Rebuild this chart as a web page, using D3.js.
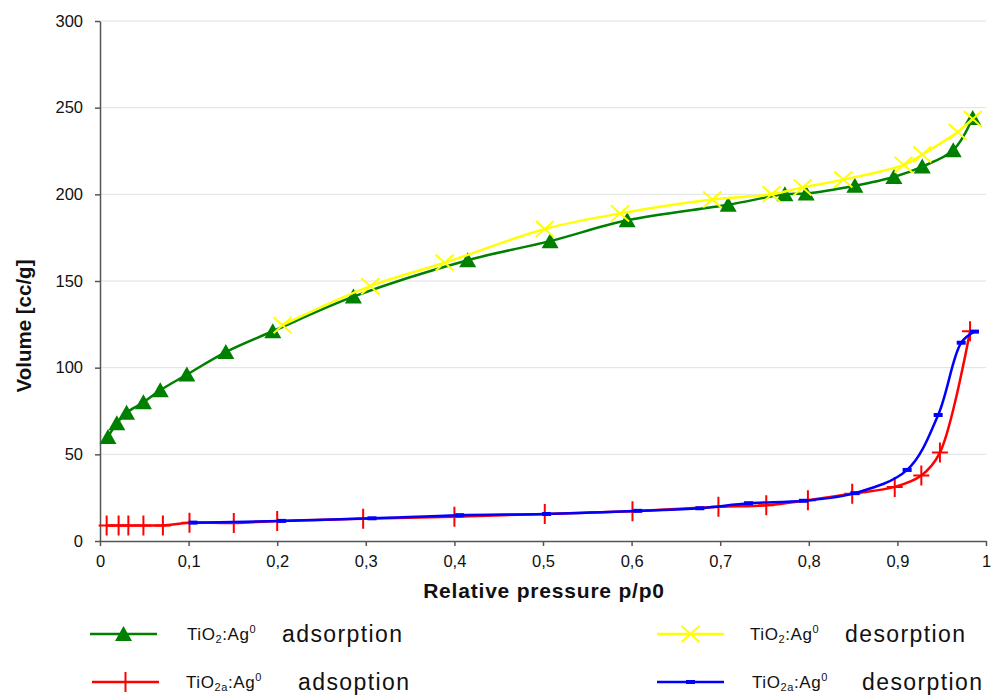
<!DOCTYPE html>
<html><head><meta charset="utf-8">
<script src="https://cdn.jsdelivr.net/npm/d3@7"></script>
<style>body{margin:0;background:#fff}svg{display:block;font-family:"Liberation Sans",Arial,sans-serif}</style>
</head><body><svg id="c" width="991" height="695"></svg>
<script>
// ---- data ----
const xTicks = [0,0.1,0.2,0.3,0.4,0.5,0.6,0.7,0.8,0.9,1];
const xTickLabels = ["0","0,1","0,2","0,3","0,4","0,5","0,6","0,7","0,8","0,9","1"];
const yTicks = [0,50,100,150,200,250,300];

// TiO2:Ag0 adsorption (green triangles)
const pGreenAds = [0.009,0.019,0.030,0.049,0.068,0.098,0.142,0.195,0.286,0.415,0.508,0.595,0.709,0.773,0.797,0.852,0.896,0.928,0.963,0.985];
const vGreenAds = [60,68,74,80,87,96,109,121,141,162,173,185,194,200,200.5,205,210,216,225.5,244];

// TiO2:Ag0 desorption (yellow crosses)
const pYellowDes = [0.206,0.305,0.389,0.502,0.587,0.691,0.758,0.793,0.839,0.907,0.928,0.968,0.985];
const vYellowDes = [124.5,147,160.5,180,189,197,200,204,208.5,217,223,236,243.5];

// TiO2a:Ag0 adsoption (red plus)
const pRedAds = [0.0075,0.021,0.032,0.049,0.071,0.101,0.151,0.200,0.297,0.400,0.502,0.601,0.698,0.752,0.799,0.849,0.897,0.927,0.948,0.982];
const vRedAds = [9,9,9,9,9,10.6,10.4,11.6,12.8,14,15.6,17.2,19.7,20.6,23.5,27.2,31.2,37.8,51,121];

// TiO2a:Ag0 desorption (blue dashes)
const pBlueDes = [0.105,0.205,0.307,0.406,0.504,0.607,0.677,0.732,0.794,0.852,0.911,0.946,0.972,0.987];
const vBlueDes = [10.6,11.6,13.1,14.9,15.6,17.4,18.9,21.8,23.2,27.6,41,72.7,114.4,120.8];

const seriesNames = ["adsorption","desorption","adsoption","desorption"];

// ---- drawing ----
const svg = d3.select('#c');
svg.append('rect').attr('width',991).attr('height',695).attr('fill','#fff');
const x = d3.scaleLinear().domain([0,1]).range([100,986]);
const y = d3.scaleLinear().domain([0,300]).range([541,21]);

// gridlines
svg.append('g').selectAll('line').data(yTicks.filter(d=>d>0)).join('line')
  .attr('x1',x(0)).attr('x2',x(1)).attr('y1',d=>y(d)).attr('y2',d=>y(d))
  .attr('stroke','#e0e0e0').attr('stroke-width',1);

// axes
const gx = svg.append('g').attr('transform',`translate(0,${y(0)})`)
  .call(d3.axisBottom(x).tickValues(xTicks).tickFormat((d,i)=>xTickLabels[i]).tickSize(5).tickPadding(9).tickSizeOuter(0));
const gy = svg.append('g').attr('transform',`translate(${x(0)},0)`)
  .call(d3.axisLeft(y).tickValues(yTicks).tickSize(5).tickPadding(12).tickSizeOuter(0));
[gx,gy].forEach(g=>{
  g.select('.domain').attr('stroke','#555').attr('stroke-width',1.5);
  g.selectAll('.tick line').attr('stroke','#555').attr('stroke-width',1.5);
  g.selectAll('.tick text').attr('fill','#111').attr('font-size',16.5)
    .attr('font-family','"Liberation Sans",Arial,sans-serif');
});

// axis titles
svg.append('text').attr('x',544).attr('y',598).attr('text-anchor','middle')
  .attr('font-size',21).attr('font-weight','bold').attr('letter-spacing',0.8).attr('fill','#111')
  .text('Relative pressure p/p0');
svg.append('text').attr('transform','translate(31,326) rotate(-90)').attr('text-anchor','middle')
  .attr('font-size',20.5).attr('font-weight','bold').attr('fill','#111')
  .text('Volume [cc/g]');

const curve = d3.curveCatmullRom.alpha(0.5);
const mk = (ps,vs)=>ps.map((p,i)=>[p,vs[i]]);
const line = d3.line().x(d=>x(d[0])).y(d=>y(d[1])).curve(curve);

const series = [
  {data: mk(pGreenAds,vGreenAds), color:'#008000', marker:'tri'},
  {data: mk(pYellowDes,vYellowDes), color:'#ffff00', marker:'x'},
  {data: mk(pRedAds,vRedAds), color:'#ff0000', marker:'plus'},
  {data: mk(pBlueDes,vBlueDes), color:'#0000ff', marker:'dash'}
];

function drawMarker(g, type, color){
  if(type==='tri'){
    g.append('path').attr('d','M0,-8 L8.5,7 L-8.5,7 Z').attr('fill',color);
  } else if(type==='x'){
    g.append('path').attr('d','M-9,-8 L9,8 M-9,8 L9,-8').attr('stroke',color).attr('stroke-width',2).attr('fill','none');
  } else if(type==='plus'){
    g.append('path').attr('d','M-8,0 L8,0 M0,-10 L0,10').attr('stroke',color).attr('stroke-width',2).attr('fill','none');
  } else {
    g.append('rect').attr('x',-4.5).attr('y',-2).attr('width',9).attr('height',4).attr('fill',color);
  }
}

series.forEach(s=>{
  svg.append('path').datum(s.data).attr('d',line).attr('fill','none')
    .attr('stroke',s.color).attr('stroke-width',2.5);
  s.data.forEach(d=>{
    const g = svg.append('g').attr('transform',`translate(${x(d[0])},${y(d[1])})`);
    drawMarker(g, s.marker, s.color);
  });
});

// legend
const legendItems = [
  {lx:90, ly:634, color:'#008000', marker:'tri', sub:'2', tx:187, bx:282, name:seriesNames[0]},
  {lx:657, ly:634, color:'#ffff00', marker:'x', sub:'2', tx:750, bx:845, name:seriesNames[1]},
  {lx:92, ly:682, color:'#ff0000', marker:'plus', sub:'2a', tx:186, bx:298, name:seriesNames[2]},
  {lx:657, ly:682, color:'#0000ff', marker:'dash', sub:'2a', tx:752, bx:862, name:seriesNames[3]}
];
legendItems.forEach(it=>{
  svg.append('line').attr('x1',it.lx).attr('x2',it.lx+67).attr('y1',it.ly).attr('y2',it.ly)
    .attr('stroke',it.color).attr('stroke-width',2.5);
  const g = svg.append('g').attr('transform',`translate(${it.lx+33.5},${it.ly})`);
  drawMarker(g,it.marker,it.color);
  const t = svg.append('text').attr('x',it.tx).attr('y',it.ly+6).attr('font-size',17).attr('fill','#111').attr('letter-spacing',0.6);
  t.append('tspan').text('TiO');
  t.append('tspan').attr('font-size',11).attr('dy',3).text(it.sub);
  t.append('tspan').attr('dy',-3).text(':Ag');
  t.append('tspan').attr('font-size',11).attr('dy',-7).text('0');
  svg.append('text').attr('x',it.bx).attr('y',it.ly+8).attr('font-size',23).attr('fill','#111')
    .attr('letter-spacing',1.4).text(it.name);
});
</script></body></html>
